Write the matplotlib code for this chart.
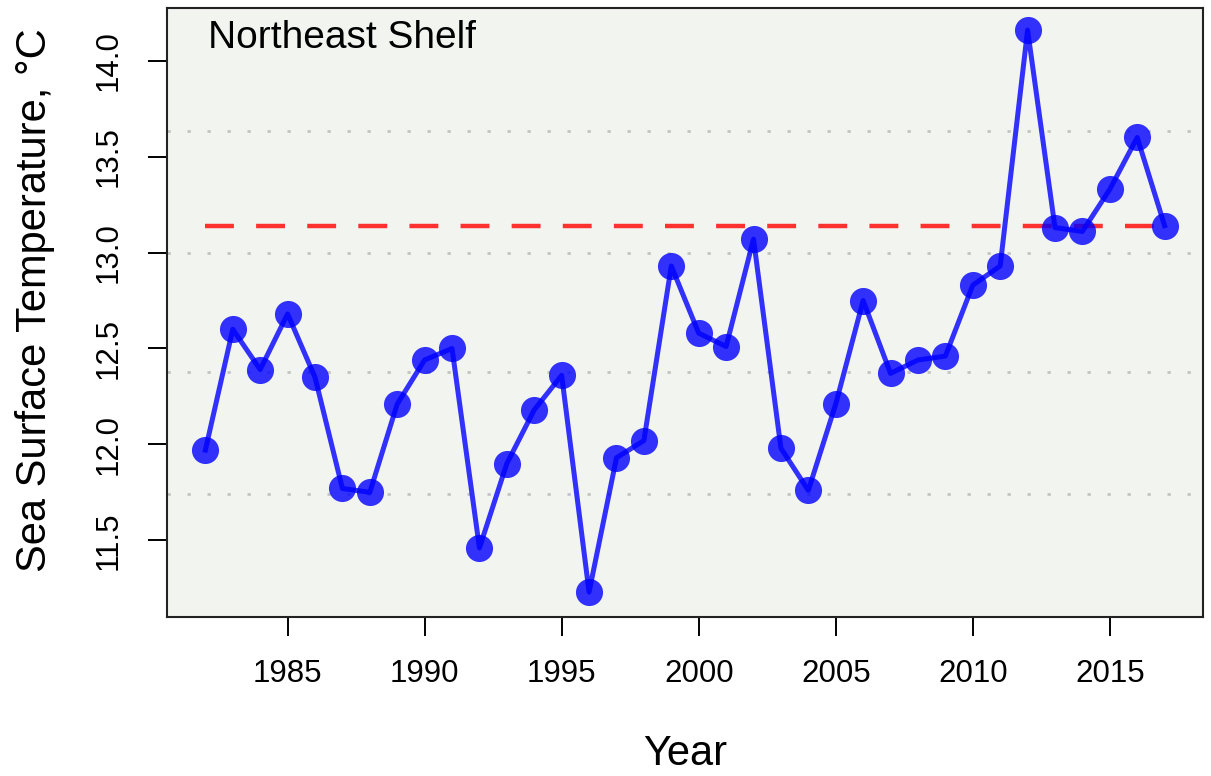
import matplotlib.pyplot as plt

years = list(range(1982, 2018))
sst = [11.97, 12.60, 12.39, 12.68, 12.35, 11.77, 11.75, 12.21, 12.44, 12.50,
       11.46, 11.90, 12.18, 12.36, 11.23, 11.93, 12.02, 12.93, 12.58, 12.51,
       13.07, 11.98, 11.76, 12.21, 12.75, 12.37, 12.44, 12.46, 12.83, 12.93,
       14.16, 13.13, 13.11, 13.33, 13.60, 13.14]
ref_lines = [11.74, 12.375, 13.0, 13.635]   # dotted reference levels
latest = 13.14                              # dashed level (last year)

plt.rcParams['font.family'] = ['Liberation Sans', 'DejaVu Sans']

fig = plt.figure(figsize=(12.11, 7.76), dpi=100)
ax = fig.add_axes([167 / 1211, 1 - 617 / 776, 1036 / 1211, 609 / 776])
ax.set_facecolor('#f2f4f0')

for v in ref_lines:
    ax.axhline(v, color='#c4c4c4', linewidth=2, linestyle=(0, (1.2, 6)), zorder=1)

ax.plot([years[0], years[-1]], [latest, latest], color='red', alpha=0.8,
        linewidth=3.2, linestyle=(0, (6.5, 5)), zorder=2)

ax.plot(years, sst, color='blue', alpha=0.8, linewidth=3.6, zorder=3)
ax.plot(years, sst, linestyle='none', marker='o', markersize=19.5,
        color='blue', alpha=0.8, markeredgewidth=0, zorder=4)

ax.set_xlim(1980.6, 2018.4)
ax.set_ylim(11.1, 14.275)
ax.set_xticks(range(1985, 2016, 5))
ax.set_yticks([11.5, 12.0, 12.5, 13.0, 13.5, 14.0])
ax.set_yticklabels(['11.5', '12.0', '12.5', '13.0', '13.5', '14.0'])

ax.tick_params(axis='both', labelsize=22.5, length=13.5, width=1.4)
ax.tick_params(axis='x', pad=17)
ax.tick_params(axis='y', pad=18)
for lab in ax.get_yticklabels():
    lab.set_rotation(90)
    lab.set_va('center')

for s in ax.spines.values():
    s.set_linewidth(1.5)
    s.set_color('#222222')

fig.text(208 / 1211, 1 - 48 / 776, 'Northeast Shelf', fontsize=28,
         ha='left', va='baseline')
fig.text(685 / 1211, 1 - 765 / 776, 'Year', fontsize=30, ha='center',
         va='baseline')
fig.text(35 / 1211, 1 - 300 / 776, 'Sea Surface Temperature, °C', fontsize=30,
         ha='center', va='center', rotation=90)

fig.savefig('out.png', dpi=100, facecolor='white')
